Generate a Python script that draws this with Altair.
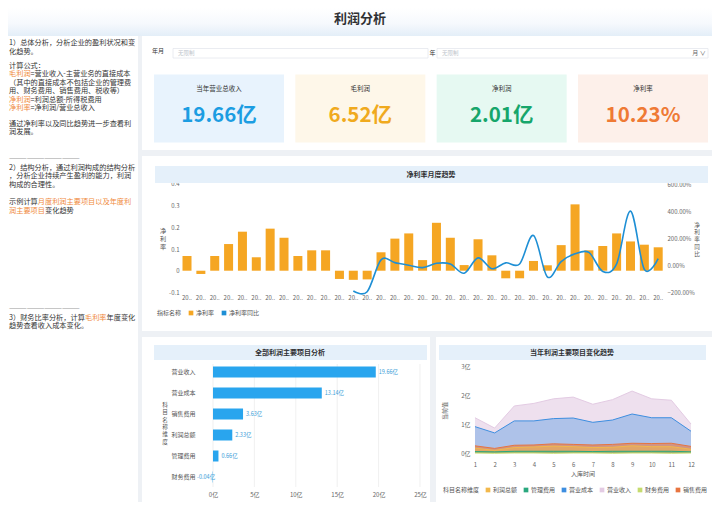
import altair as alt
import pandas as pd

FONT = "Noto Sans CJK SC"
GAP_BG = "#eef1f5"

# ---------------- text & data ----------------
page_title = "利润分析"

note_lines = [
    [("1）总体分析，分析企业的盈利状况和变", "n")],
    [("化趋势。", "n")],
    [("计算公式：", "n")],
    [("毛利润", "h"), ("=营业收入-主营业务的直接成本", "n")],
    [("（其中的直接成本不包括企业的管理费", "n")],
    [("用、财务费用、销售费用、税收等）", "n")],
    [("净利润", "h"), ("=利润总额-所得税费用", "n")],
    [("净利率", "h"), ("=净利润/营业总收入", "n")],
    [("通过净利率以及同比趋势进一步查看利", "n")],
    [("润发展。", "n")],
    [("————————————", "d")],
    [("2）结构分析，通过利润构成的结构分析", "n")],
    [("，分析企业持续产生盈利的能力，利润", "n")],
    [("构成的合理性。", "n")],
    [("示例计算", "n"), ("月度利润主要项目以及年度利", "h")],
    [("润主要项目", "h"), ("变化趋势", "n")],
    [("————————————", "d")],
    [("3）财务比率分析，计算", "n"), ("毛利率", "h"), ("年度变化", "n")],
    [("趋势查看收入成本变化。", "n")],
]
note_line_y = [7, 16, 29.5, 38, 46.5, 55, 63.5, 72, 87.5, 96, 122.5, 131.5,
               140, 148.5, 165.5, 174.5, 273, 281.5, 290]

filter_label = "年月"
filter_year = "年"
filter_month = "月 ∨"
filter_placeholder = "无限制"

kpi_names = ["当年营业总收入", "毛利润", "净利润", "净利率"]
kpi_texts = ["19.66亿", "6.52亿", "2.01亿", "10.23%"]

trend_title = "净利率月度趋势"
trend_months = [f"{y}-{m:02d}" for y in (2019, 2020, 2021) for m in range(1, 13)][:35]
net_margin = [0.068, -0.015, 0.068, 0.123, 0.18, 0.062, 0.194, 0.152, 0.068, 0.094,
              0.094, -0.038, -0.042, -0.04, 0.085, 0.148, 0.172, 0.049, 0.221, 0.152,
              0.026, 0.145, 0.071, -0.035, -0.035, 0.045, 0.025, 0.118, 0.306, 0.094,
              0.114, 0.172, 0.135, 0.12, 0.108]
net_margin_yoy = [None] * 12 + [-1.9, -1.95, 0.4, 0.2, 0.0, -0.17, 0.15, 0.1, -0.58,
                                0.55, -0.25, 0.18, 0.1, 2.2, -0.85, 0.28, 0.85, 0.95,
                                -0.45, 0.1, 4.0, -0.3, 0.5]
margin_ticks = [-0.1, 0, 0.1, 0.2, 0.3, 0.4]
yoy_ticks = [-2, 0, 2, 4, 6]
series_names = ["净利率", "净利率同比"]

items_title = "全部利润主要项目分析"
items = ["营业收入", "营业成本", "销售费用", "利润总额", "管理费用", "财务费用"]
item_totals = [19.66, 13.14, 3.63, 2.33, 0.66, -0.04]
item_ticks = [0, 5, 10, 15, 20, 25]

monthly_title = "当年利润主要项目变化趋势"
month_nums = list(range(1, 13))
revenue = [1.23, 0.87, 1.64, 1.73, 1.89, 1.95, 1.70, 1.86, 2.16, 1.89, 1.84, 1.01]
cost = [0.92, 0.70, 1.12, 1.12, 1.20, 1.22, 1.07, 1.15, 1.36, 1.23, 1.23, 0.76]
selling = [0.25, 0.16, 0.27, 0.28, 0.32, 0.30, 0.28, 0.30, 0.34, 0.33, 0.34, 0.23]
profit_total = [0.17, 0.09, 0.19, 0.21, 0.24, 0.22, 0.19, 0.20, 0.25, 0.22, 0.22, 0.13]
admin = [0.05, 0.04, 0.06, 0.06, 0.06, 0.06, 0.05, 0.06, 0.06, 0.06, 0.06, 0.04]
finance = [0.0, -0.01, 0.0, 0.0, -0.01, 0.0, 0.0, -0.01, 0.0, 0.0, -0.01, 0.0]
amount_ticks = [0, 1, 2, 3]
legend_order = ["利润总额", "管理费用", "营业成本", "营业收入", "财务费用", "销售费用"]
area_draw_order = ["营业收入", "营业成本", "销售费用", "利润总额", "管理费用", "财务费用"]

# ---------------- helpers ----------------
ONE = pd.DataFrame({"k": [0]})


def box(x, x2, y, y2, **kw):
    return alt.Chart(ONE).mark_rect(**kw).encode(
        x=alt.value(x), x2=alt.value(x2), y=alt.value(y), y2=alt.value(y2))


def label(x, y, text, **kw):
    return alt.Chart(ONE).mark_text(**kw).encode(
        x=alt.value(x), y=alt.value(y), text=alt.value(text))


def stacked(x, yc, text, fs, lh):
    top = yc - len(text) * lh / 2
    return label(x, top, "\n".join(text), lineBreak="\n", baseline="top",
                 fontSize=fs, lineHeight=lh, color="#555555")


HEAD_FILL = "#e5f0fa"
AX = dict(labelFontSize=6, labelColor="#666666", ticks=False, domain=False, grid=False, title=None)
INDEP = dict(color="independent", fill="independent")

# ---------------- title band ----------------
title_cell = alt.layer(
    box(0, 704, 0, 28, fill=alt.Gradient(
        gradient="linear", x1=0, y1=0, x2=0, y2=1,
        stops=[alt.GradientStop(offset=0, color="#ffffff"),
               alt.GradientStop(offset=0.55, color="#f6f9fd"),
               alt.GradientStop(offset=1, color="#e3eef8")])),
    label(352, 11, page_title, fontSize=13, fontWeight="bold", color="#303133"),
).properties(width=704, height=28)

# ---------------- left notes ----------------
NOTE_FS = 7.2


def char_w(c):
    return 0.55 if ord(c) < 0x2000 else 1.0


rows = []
for segs, yy in zip(note_lines, note_line_y):
    off = 0.0
    for txt, kind in segs:
        rows.append({"px": 1 + off * NOTE_FS, "py": yy, "txt": txt, "kind": kind})
        off += sum(char_w(c) for c in txt)

notes_cell = alt.Chart(pd.DataFrame(rows)).mark_text(
    align="left", baseline="middle", fontSize=NOTE_FS).encode(
    x=alt.X("px:Q", scale=alt.Scale(domain=[0, 130], nice=False, zero=False), axis=None),
    y=alt.Y("py:Q", scale=alt.Scale(domain=[0, 466], nice=False, zero=False, reverse=True), axis=None),
    text="txt:N",
    color=alt.Color("kind:N", scale=alt.Scale(domain=["n", "h", "d"],
                                              range=["#333333", "#f08a3c", "#9a9a9a"]), legend=None),
).properties(width=130, height=466)

# ---------------- top-right: filters + KPI ----------------
kpi_df = pd.DataFrame({"name": kpi_names, "txt": kpi_texts})
kx = alt.X("name:N", sort=kpi_names, axis=None,
           scale=alt.Scale(paddingInner=0.08, paddingOuter=0.0566, align=0.75))
cards = alt.Chart(kpi_df).mark_rect().encode(
    x=kx, y=alt.value(38.5), y2=alt.value(106.5),
    fill=alt.Fill("name:N", scale=alt.Scale(domain=kpi_names,
                                            range=["#e8f3fd", "#fef7e9", "#e6f9f2", "#fdf0ea"]), legend=None))
kpi_lbl = alt.Chart(kpi_df).mark_text(fontSize=6.5, color="#333333").encode(
    x=kx, y=alt.value(52.5), text="name:N")
kpi_val = alt.Chart(kpi_df).mark_text(fontSize=20.5, fontWeight="bold").encode(
    x=kx, y=alt.value(80), text="txt:N",
    color=alt.Color("name:N", scale=alt.Scale(domain=kpi_names,
                                              range=["#1c9de2", "#f0aa1e", "#16a66b", "#ef7a35"]), legend=None))

top_cell = alt.layer(
    box(31, 286, 12.5, 22, fill="#ffffff", stroke="#e4e7ed", strokeWidth=0.8),
    box(295, 566, 12.5, 22, fill="#ffffff", stroke="#e4e7ed", strokeWidth=0.8),
    label(16, 15, filter_label, fontSize=6, color="#333333"),
    label(36, 17.3, filter_placeholder, align="left", fontSize=5.5, color="#c0c4cc"),
    label(290.5, 17.3, filter_year, fontSize=6, color="#333333"),
    label(300, 17.3, filter_placeholder, align="left", fontSize=5.5, color="#c0c4cc"),
    label(557, 17.3, filter_month, fontSize=6, color="#666666"),
    cards, kpi_lbl, kpi_val,
).resolve_scale(**INDEP).properties(width=570, height=114)

# ---------------- middle: monthly net margin trend ----------------
trend_df = pd.DataFrame({"month": trend_months, "nm": net_margin, "yoy": net_margin_yoy})
BAR_C = "#f5a623"
LINE_C = "#1e8fd5"
tx = alt.X("month:N", sort=trend_months,
           scale=alt.Scale(range=[40.5, 520.7], paddingInner=0.35, paddingOuter=0),
           axis=alt.Axis(labelExpr="substring(datum.label, 0, 2) + '..'", labelAngle=0,
                         offset=-38, labelPadding=1, **AX))
series_color = alt.Color("series:N", scale=alt.Scale(domain=series_names, range=[BAR_C, LINE_C]),
                         legend=alt.Legend(orient="none", legendX=15, legendY=154, direction="horizontal",
                                           title="指标名称", titleOrient="left", titleFontSize=6,
                                           titleFontWeight="normal", titleColor="#555555",
                                           labelFontSize=6, labelColor="#555555", symbolType="square",
                                           symbolSize=22, symbolStrokeWidth=0, columnPadding=6,
                                           titlePadding=6, labelOffset=2))
bars = alt.Chart(trend_df).transform_calculate(series="'净利率'").mark_bar().encode(
    x=tx,
    y=alt.Y("nm:Q", scale=alt.Scale(domain=[-0.278, 0.529], nice=False, zero=False),
            axis=alt.Axis(orient="left", values=margin_ticks, labelExpr="toString(datum.value)",
                          offset=-39, labelPadding=2, **AX)),
    color=series_color,
)
line = alt.Chart(trend_df).transform_filter("isValid(datum.yoy)").transform_calculate(
    series="'净利率同比'").mark_line(interpolate="cardinal", strokeWidth=1.6).encode(
    x=tx,
    y=alt.Y("yoy:Q", scale=alt.Scale(domain=[-4.85, 8.07], nice=False, zero=False),
            axis=alt.Axis(orient="right", values=yoy_ticks, format=".2%",
                          offset=-47, labelPadding=2, **AX)),
    color=series_color,
)
mid_cell = alt.layer(
    box(13, 566, 10, 27, fill=HEAD_FILL),
    label(289, 18.5, trend_title, fontSize=7, fontWeight="bold", color="#303133"),
    bars, line,
    stacked(21, 84, "净利率", 6.2, 8.0),
    stacked(555, 85, "净利率同比", 5.6, 7.3),
).resolve_scale(y="independent").properties(width=570, height=175)

# ---------------- bottom-left: item totals ----------------
items_df = pd.DataFrame({"item": items, "val": item_totals})
ix = alt.X("val:Q", scale=alt.Scale(domain=[-8.575, 26.21], nice=False, zero=False),
           axis=alt.Axis(values=item_ticks, labelExpr="datum.value + '亿'", offset=-13,
                         labelPadding=2, **AX))
iy = alt.Y("item:N", sort=items,
           scale=alt.Scale(range=[29.5, 145.5], paddingInner=0.476, paddingOuter=0),
           axis=alt.Axis(offset=-55, labelPadding=2, labelFontSize=6, labelColor="#555555",
                         ticks=False, domain=False, grid=False, title=None))
grid_rules = alt.Chart(pd.DataFrame({"val": item_ticks})).mark_rule(
    color="#ececec", strokeWidth=0.8).encode(x=ix, y=alt.value(27), y2=alt.value(150))
item_bars = alt.Chart(items_df).mark_bar(color="#29a5ee").encode(x=ix, y=iy)
lbl_calc = "toString(datum.val) + '亿'"
pos_lbl = alt.Chart(items_df).transform_filter("datum.val >= 0").transform_calculate(
    lbl=lbl_calc).mark_text(align="left", dx=3, fontSize=5.5, color="#3a9ed8").encode(
    x=ix, y=iy, text="lbl:N")
neg_lbl = alt.Chart(items_df).transform_filter("datum.val < 0").transform_calculate(
    lbl=lbl_calc).mark_text(align="right", dx=2.5, fontSize=5.5, color="#3a9ed8").encode(
    x=ix, y=iy, text="lbl:N")
bl_cell = alt.layer(
    box(12, 285, 8, 23, fill=HEAD_FILL),
    label(148, 15.5, items_title, fontSize=7, fontWeight="bold", color="#303133"),
    grid_rules, item_bars, pos_lbl, neg_lbl,
    stacked(23, 88, "科目名称维度", 5.6, 7.4),
).properties(width=288, height=165)

# ---------------- bottom-right: monthly items ----------------
series_map = {"营业收入": revenue, "营业成本": cost, "销售费用": selling,
              "利润总额": profit_total, "管理费用": admin, "财务费用": finance}
long_rows = []
for name, vals in series_map.items():
    for m, v in zip(month_nums, vals):
        long_rows.append({"s": name, "m": m, "v": v})
monthly_df = pd.DataFrame(long_rows)

mx = alt.X("m:Q", scale=alt.Scale(domain=[-0.986, 13.07], nice=False, zero=False),
           axis=alt.Axis(values=month_nums, offset=-43, labelPadding=2, **AX))
my = alt.Y("v:Q", scale=alt.Scale(domain=[-1.709, 4.046], nice=False, zero=False),
           axis=alt.Axis(values=amount_ticks, labelExpr="datum.value + '亿'", offset=-36,
                         labelPadding=2, **AX))
area_color = alt.Color("s:N", scale=alt.Scale(
    domain=legend_order,
    range=["#f2b84b", "#2aa87e", "#3d8ee0", "#e3cbe3", "#c5db6e", "#e8743f"]),
    legend=alt.Legend(orient="none", legendX=7, legendY=150, direction="horizontal",
                      title="科目名称维度", titleOrient="left", titleFontSize=6,
                      titleFontWeight="normal", titleColor="#555555", labelFontSize=6,
                      labelColor="#555555", symbolType="square", symbolSize=22,
                      symbolStrokeWidth=0, columnPadding=5, titlePadding=5, labelOffset=2))
area_opacity = {"营业收入": 0.6, "营业成本": 0.36, "销售费用": 0.6,
                "利润总额": 0.5, "管理费用": 0.45, "财务费用": 0.45}
area_layers = []
for name in area_draw_order:
    area_layers.append(
        alt.Chart(monthly_df).transform_filter(alt.datum.s == name).mark_area(
            fillOpacity=area_opacity[name], line={"strokeWidth": 1}).encode(
            x=mx, y=my, color=area_color))

br_cell = alt.layer(
    box(3, 270, 8, 23, fill=HEAD_FILL),
    label(136, 15.5, monthly_title, fontSize=7, fontWeight="bold", color="#303133"),
    *area_layers,
    label(147, 137, "入库时间", fontSize=6, color="#555555"),
    label(9, 74, "当前值", angle=270, fontSize=6, color="#555555"),
).properties(width=276, height=165)

# ---------------- assemble ----------------
bottom_row = alt.hconcat(bl_cell, br_cell, spacing=6).resolve_scale(**INDEP)
right_col = alt.vconcat(top_cell, mid_cell, bottom_row, spacing=6).resolve_scale(**INDEP)
body = alt.hconcat(notes_cell, right_col, spacing=4).resolve_scale(**INDEP)
chart = alt.vconcat(title_cell, body, spacing=0).resolve_scale(**INDEP).properties(
    padding=0, background=GAP_BG
).configure(font=FONT, view=alt.ViewConfig(fill="#ffffff", strokeWidth=0))

chart.save("out.html", embed_options={"renderer": "svg", "actions": False})
